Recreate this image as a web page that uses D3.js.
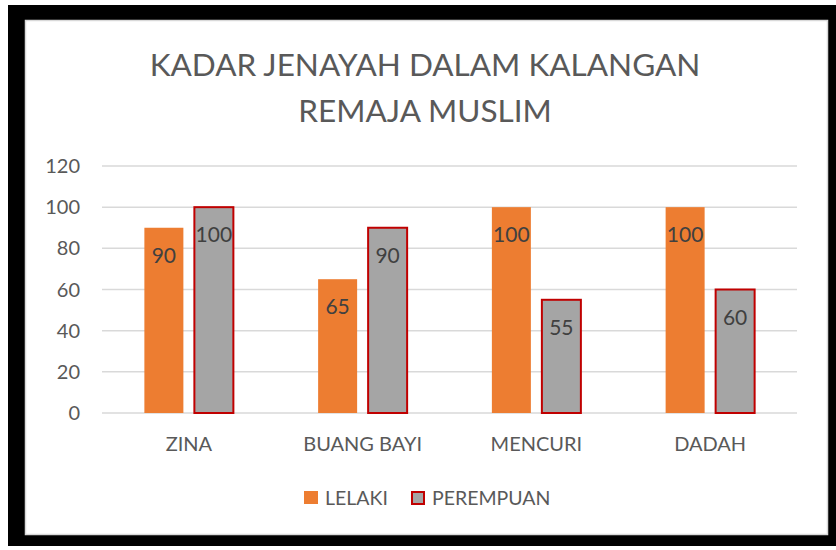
<!DOCTYPE html>
<html>
<head>
<meta charset="utf-8">
<script src="https://cdn.jsdelivr.net/npm/d3@7"></script>
<style>
  body { margin: 0; background: #fff; }
  svg { display: block; }
  text { font-family: Lato, "Open Sans", sans-serif; fill: #595959; }
</style>
</head>
<body>
<svg id="chart" width="836" height="550"></svg>
<script>
const categories = ['ZINA', 'BUANG BAYI', 'MENCURI', 'DADAH'];
const series = ['LELAKI', 'PEREMPUAN'];
const lelaki = [90, 65, 100, 100];
const perempuan = [100, 90, 55, 60];
const yTicks = [0, 20, 40, 60, 80, 100, 120];
const titleLines = ['KADAR JENAYAH DALAM KALANGAN', 'REMAJA MUSLIM'];

const svg = d3.select('#chart');

// frame: thick black border around a white chart area
svg.append('rect').attr('x', 8).attr('y', 5).attr('width', 828).attr('height', 541).attr('fill', '#000');
svg.append('rect').attr('x', 25.5).attr('y', 20.5).attr('width', 802).attr('height', 514)
  .attr('fill', '#fff').attr('stroke', '#d9d9d9').attr('stroke-width', 1.5);

// title
svg.append('g').selectAll('text')
  .data(titleLines)
  .join('text')
  .attr('x', 425)
  .attr('y', (d, i) => 76 + i * 46)
  .attr('text-anchor', 'middle')
  .attr('font-size', '31.5px')
  .text(d => d);

const x = d3.scaleBand().domain(categories).range([102, 797]);
const xs = d3.scaleBand().domain(series).range([-44.5, 44.5]).paddingInner(0.22);
const y = d3.scaleLinear().domain([0, 120]).range([413, 166]);
const colour = d3.scaleOrdinal().domain(series).range(['#ED7D31', '#A5A5A5']);

// gridlines
svg.append('g').selectAll('line')
  .data(yTicks)
  .join('line')
  .attr('x1', 102).attr('x2', 797)
  .attr('y1', d => y(d)).attr('y2', d => y(d))
  .attr('stroke', '#d9d9d9').attr('stroke-width', 1.5);

// y tick labels
svg.append('g').selectAll('text')
  .data(yTicks)
  .join('text')
  .attr('x', 80)
  .attr('y', d => y(d))
  .attr('dy', '0.35em')
  .attr('text-anchor', 'end')
  .attr('font-size', '20px')
  .text(d => d);

// x labels
svg.append('g').selectAll('text')
  .data(categories)
  .join('text')
  .attr('x', d => x(d) + x.bandwidth() / 2)
  .attr('y', 451)
  .attr('text-anchor', 'middle')
  .attr('font-size', '20px')
  .text(d => d);

// bars
const rows = categories.map((c, i) => ({ cat: c, vals: [
  { s: 'LELAKI', v: lelaki[i] },
  { s: 'PEREMPUAN', v: perempuan[i] }
]}));

const group = svg.append('g').selectAll('g')
  .data(rows)
  .join('g')
  .attr('transform', d => `translate(${x(d.cat) + x.bandwidth() / 2},0)`);

group.selectAll('rect')
  .data(d => d.vals)
  .join('rect')
  .attr('x', d => xs(d.s))
  .attr('width', xs.bandwidth())
  .attr('y', d => y(d.v))
  .attr('height', d => y(0) - y(d.v))
  .attr('fill', d => colour(d.s))
  .attr('stroke', d => d.s === 'PEREMPUAN' ? '#C00000' : 'none')
  .attr('stroke-width', 2);

group.selectAll('text')
  .data(d => d.vals)
  .join('text')
  .attr('x', d => xs(d.s) + xs.bandwidth() / 2)
  .attr('y', d => y(d.v) + 35)
  .attr('text-anchor', 'middle')
  .attr('font-size', '21px')
  .style('fill', '#404040')
  .text(d => d.v);

// legend
const legend = svg.append('g').selectAll('g')
  .data(series)
  .join('g')
  .attr('transform', (d, i) => `translate(${i === 0 ? 304 : 411},491)`);

legend.append('rect')
  .attr('x', d => d === 'PEREMPUAN' ? 1 : 0)
  .attr('y', d => d === 'PEREMPUAN' ? 1 : 0)
  .attr('width', d => d === 'PEREMPUAN' ? 12 : 14)
  .attr('height', d => d === 'PEREMPUAN' ? 12 : 13)
  .attr('fill', d => colour(d))
  .attr('stroke', d => d === 'PEREMPUAN' ? '#C00000' : 'none')
  .attr('stroke-width', 2);

legend.append('text')
  .attr('x', 21)
  .attr('y', 14)
  .attr('font-size', '19.5px')
  .text(d => d);
</script>
</body>
</html>
